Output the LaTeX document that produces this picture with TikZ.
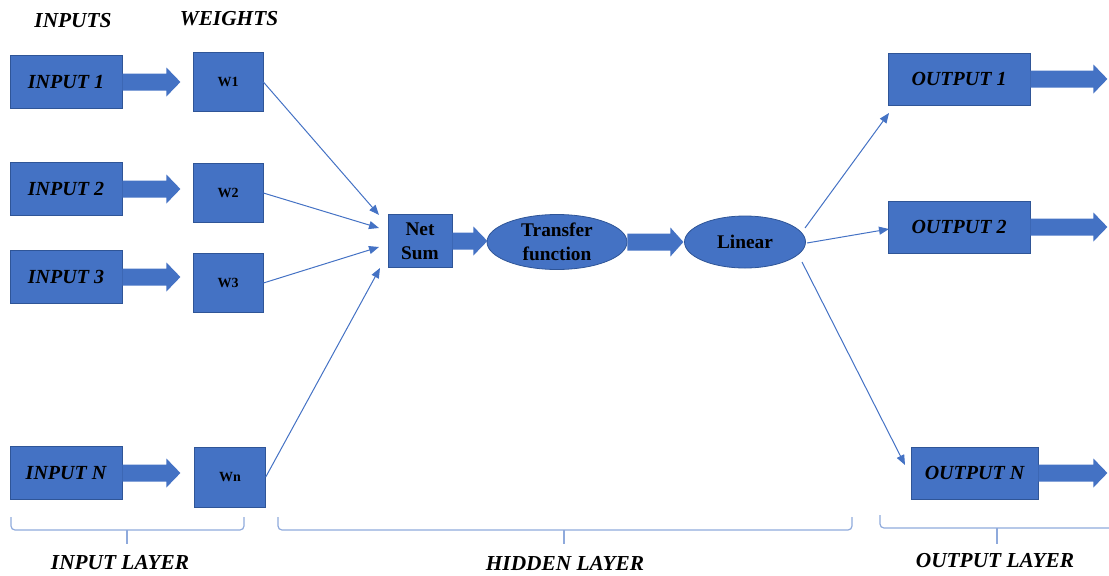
\documentclass[tikz,border=0pt]{standalone}
\usepackage{fontspec}
\setmainfont{Liberation Serif}
\usetikzlibrary{calc,arrows.meta,shapes.geometric}
\definecolor{boxblue}{HTML}{4472C4}
\definecolor{edgeblue}{HTML}{2F5597}
\definecolor{braceblue}{HTML}{8FAADC}
\tikzset{
  boxnode/.style={draw=edgeblue, line width=0.6pt, fill=boxblue, inner sep=0pt, align=center},
  bigtxt/.style={font=\fontsize{15}{17}\selectfont\bfseries\itshape},
  midtxt/.style={font=\fontsize{14.5}{18}\selectfont\bfseries},
  wtxt/.style={font=\fontsize{10.5}{12}\selectfont\bfseries},
  headtxt/.style={font=\fontsize{16}{19}\selectfont\bfseries\itshape},
  thinarr/.style={draw=boxblue, line width=0.75pt, -{Triangle[length=7.5pt,width=6pt]}},
  bracestyle/.style={draw=braceblue, line width=0.9pt, rounded corners=3pt},
}
\newcommand\fatarr[3]{\fill[boxblue] ($(#1)+(0,-8.5)$) -- ++(#2,0) -- ++(0,-6) -- ++(#3,14.5) -- ++(-#3,14.5) -- ++(0,-6) -- ++(-#2,0) -- cycle;}
\begin{document}
\begin{tikzpicture}[x=0.75pt,y=-0.75pt]
\useasboundingbox (0,0) rectangle (1109,575);
% headings
\node[headtxt] (hin) at (73,21) {INPUTS};
\node[headtxt] (hw) at (229,19) {WEIGHTS};
% inputs
\node[boxnode,bigtxt,minimum width=84pt,minimum height=39.75pt] (in1) at (66,82) {INPUT 1};
\node[boxnode,bigtxt,minimum width=84pt,minimum height=39.75pt] (in2) at (66,189) {INPUT 2};
\node[boxnode,bigtxt,minimum width=84pt,minimum height=39.75pt] (in3) at (66,277) {INPUT 3};
\node[boxnode,bigtxt,minimum width=84pt,minimum height=39.75pt] (inn) at (66,473) {INPUT N};
% weights
\node[boxnode,wtxt,minimum width=52.5pt,minimum height=44.25pt] (w1) at (228,82) {W1};
\node[boxnode,wtxt,minimum width=52.5pt,minimum height=44.25pt] (w2) at (228,193) {W2};
\node[boxnode,wtxt,minimum width=52.5pt,minimum height=44.25pt] (w3) at (228,283) {W3};
\node[boxnode,wtxt,minimum width=53pt,minimum height=45pt] (wn) at (230,477) {Wn};
% hidden
\node[boxnode,midtxt,minimum width=48pt,minimum height=39.75pt] (ns) at (420,241) {Net\\Sum};
\node[boxnode,midtxt,ellipse,minimum width=105pt,minimum height=41.25pt] (tf) at (557,242) {Transfer\\function};
\node[boxnode,midtxt,ellipse,minimum width=90.75pt,minimum height=39pt] (lin) at (745,242) {Linear};
% outputs
\node[boxnode,bigtxt,minimum width=106.5pt,minimum height=39pt] (o1) at (959,79) {OUTPUT 1};
\node[boxnode,bigtxt,minimum width=106.5pt,minimum height=39pt] (o2) at (959,227) {OUTPUT 2};
\node[boxnode,bigtxt,minimum width=95.25pt,minimum height=39pt] (on) at (974.5,473) {OUTPUT N};
% fat arrows
\fatarr{in1.east}{44}{14}
\fatarr{in2.east}{44}{14}
\fatarr{in3.east}{44}{14}
\fatarr{inn.east}{44}{14}
\fatarr{ns.east}{21}{14}
\fatarr{tf.east}{43}{13}
\fatarr{o1.east}{63}{14}
\fatarr{o2.east}{63}{14}
\fatarr{on.east}{55}{14}
% thin connectors
\coordinate (e1) at (379,215);
\coordinate (e2) at (379,228);
\coordinate (e3) at (379,247);
\coordinate (e4) at (380,268);
\coordinate (l1) at (805,228);
\coordinate (l2) at (807,243);
\coordinate (l3) at (802,262);
\coordinate (f1) at (889,113);
\coordinate (f2) at (889,229);
\coordinate (f3) at (905,465);
\draw[thinarr] (w1.east) -- (e1);
\draw[thinarr] (w2.east) -- (e2);
\draw[thinarr] (w3.east) -- (e3);
\draw[thinarr] (wn.east) -- (e4);
\draw[thinarr] (l1) -- (f1);
\draw[thinarr] (l2) -- (f2);
\draw[thinarr] (l3) -- (f3);
% braces
\draw[bracestyle] (11,517) |- (244,530) -- (244,517);
\draw[braceblue, line width=0.9pt] (127,530) -- (127,544);
\draw[bracestyle] (278,517) |- (852,530) -- (852,517);
\draw[braceblue, line width=0.9pt] (564,530) -- (564,544);
\draw[bracestyle] (880,515) |- (1109,528);
\draw[braceblue, line width=0.9pt] (997,528) -- (997,544);
% layer labels
\node[headtxt] (lin1) at (120,563) {INPUT LAYER};
\node[headtxt] (lhid) at (565,563) {HIDDEN LAYER};
\node[headtxt] (lout) at (995,561) {OUTPUT LAYER};
\end{tikzpicture}
\end{document}
